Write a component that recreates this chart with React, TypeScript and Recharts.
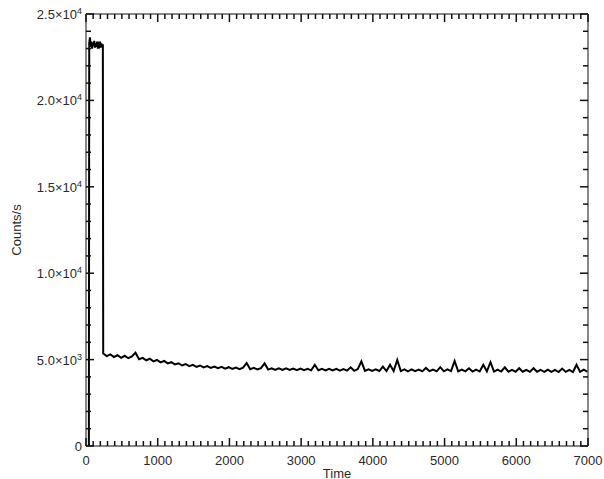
import React from 'react';
import { LineChart, Line, XAxis, YAxis } from 'recharts';

// Count rate during the first ~240 s (high state), starting from zero
const startTime = 40;
const startValue = 0;
const highStart = 45;
const highStep = 10;
const highValues = [
  23300, 23650, 23100, 23400, 23000, 23350, 23150, 23450, 23050, 23300,
  23100, 23400, 23000, 23250, 23150, 23400, 23050, 23300, 23100, 23250,
];

// Count rate after the drop
const lowStart = 240;
const lowStep = 50;
const lowValues = [
  5350, 5200, 5300, 5150, 5250, 5100, 5220, 5080, 5180, 5400,
  5020, 5100, 4960, 5050, 4900, 4980, 4840, 4920, 4780, 4850,
  4720, 4790, 4660, 4740, 4620, 4700, 4580, 4660, 4550, 4630,
  4520, 4600, 4500, 4580, 4480, 4560, 4460, 4540, 4450, 4530,
  4800, 4440, 4520, 4430, 4510, 4780, 4420, 4500, 4410, 4490,
  4400, 4490, 4400, 4480, 4390, 4480, 4390, 4470, 4380, 4700,
  4380, 4470, 4370, 4460, 4370, 4460, 4360, 4450, 4360, 4550,
  4350, 4450, 4900, 4350, 4440, 4350, 4440, 4340, 4600, 4340,
  4700, 4340, 4980, 4330, 4430, 4320, 4440, 4330, 4420, 4320,
  4520, 4330, 4420, 4320, 4560, 4320, 4430, 4330, 4920, 4320,
  4420, 4320, 4500, 4310, 4420, 4310, 4700, 4320, 4850, 4310,
  4420, 4310, 4550, 4300, 4410, 4300, 4500, 4300, 4410, 4290,
  4500, 4300, 4400, 4290, 4420, 4290, 4400, 4280, 4480, 4290,
  4400, 4280, 4700, 4290, 4420, 4300,
];

const xTicks = Array.from({ length: 71 }, (_, i) => i * 100);
const xMajor = [0, 1000, 2000, 3000, 4000, 5000, 6000, 7000];
const yTicks = Array.from({ length: 26 }, (_, i) => i * 1000);
const yMajorLabels: Record<number, [string, string]> = {
  0: ['0', ''],
  5000: ['5.0×10', '3'],
  10000: ['1.0×10', '4'],
  15000: ['1.5×10', '4'],
  20000: ['2.0×10', '4'],
  25000: ['2.5×10', '4'],
};

const data = [
  { t: startTime, v: startValue },
  ...highValues.map((v, i) => ({ t: highStart + i * highStep, v })),
  ...lowValues.map((v, i) => ({ t: lowStart + i * lowStep, v })),
];

const FONT = '"Liberation Sans", Arial, Helvetica, sans-serif';
const TXT = '#2a2a2a';
const MAJ = 8;
const MIN = 5;
const TW = 1.5;

const BottomTick = (props: any) => {
  const { x, y, payload } = props;
  const major = xMajor.includes(payload.value);
  return (
    <g>
      <line x1={x} x2={x} y1={y} y2={y - (major ? MAJ : MIN)} stroke="#111" strokeWidth={TW} />
      {major && (
        <text x={x} y={y + 19} textAnchor="middle" fontSize={13} fill={TXT} fontFamily={FONT}>
          {payload.value}
        </text>
      )}
    </g>
  );
};

const TopTick = (props: any) => {
  const { x, y, payload } = props;
  const major = xMajor.includes(payload.value);
  return (
    <g>
      <line x1={x} x2={x} y1={y} y2={y + (major ? MAJ : MIN)} stroke="#111" strokeWidth={TW} />
    </g>
  );
};

const LeftTick = (props: any) => {
  const { x, y, payload } = props;
  const lab = yMajorLabels[payload.value];
  const major = !!lab;
  return (
    <g>
      <line x1={x} x2={x + (major ? MAJ : MIN)} y1={y} y2={y} stroke="#111" strokeWidth={TW} />
      {lab && (
        <text x={x - 4} y={y + 5} textAnchor="end" fontSize={13} fill={TXT} fontFamily={FONT}>
          {lab[0]}
          {lab[1] && (
            <tspan dy={-5} fontSize={9}>
              {lab[1]}
            </tspan>
          )}
        </text>
      )}
    </g>
  );
};

const RightTick = (props: any) => {
  const { x, y, payload } = props;
  const major = !!yMajorLabels[payload.value];
  return (
    <g>
      <line x1={x} x2={x - (major ? MAJ : MIN)} y1={y} y2={y} stroke="#111" strokeWidth={TW} />
    </g>
  );
};

export default function App() {
  return (
    <div style={{ position: 'absolute', left: 0, top: 0, background: '#fff' }}>
      <LineChart
        width={604}
        height={479}
        data={data}
        margin={{ top: 0, right: 0, bottom: 0, left: 0 }}
        style={{ fontFamily: FONT }}
      >
        <XAxis
          xAxisId="bottom"
          dataKey="t"
          type="number"
          domain={[0, 7000]}
          ticks={xTicks}
          interval={0}
          tickSize={0}
          tickMargin={0}
          tick={<BottomTick />}
          height={33}
          orientation="bottom"
          stroke="#111"
          allowDataOverflow
          label={{
            content: (p: any) => {
              const vb = p.viewBox;
              return (
                <text x={vb.x + vb.width / 2} y={vb.y + 32} textAnchor="middle" fontSize={13} fill={TXT} fontFamily={FONT}>
                  Time
                </text>
              );
            },
          }}
        />
        <XAxis
          xAxisId="top"
          dataKey="t"
          type="number"
          domain={[0, 7000]}
          ticks={xTicks}
          interval={0}
          tickSize={0}
          tickMargin={0}
          tick={<TopTick />}
          height={14}
          orientation="top"
          stroke="#111"
          allowDataOverflow
        />
        <YAxis
          yAxisId="left"
          type="number"
          domain={[0, 25000]}
          ticks={yTicks}
          interval={0}
          tickSize={0}
          tickMargin={0}
          tick={<LeftTick />}
          width={86}
          orientation="left"
          stroke="#111"
          allowDataOverflow
          label={{
            content: (p: any) => {
              const vb = p.viewBox;
              const cy = vb.y + vb.height / 2;
              return (
                <text x={21} y={cy} textAnchor="middle" fontSize={13} fill={TXT} fontFamily={FONT} transform={`rotate(-90 21 ${cy})`}>
                  Counts/s
                </text>
              );
            },
          }}
        />
        <YAxis
          yAxisId="right"
          type="number"
          domain={[0, 25000]}
          ticks={yTicks}
          interval={0}
          tickSize={0}
          tickMargin={0}
          tick={<RightTick />}
          width={16}
          orientation="right"
          stroke="#111"
          allowDataOverflow
        />
        <Line
          xAxisId="bottom"
          yAxisId="left"
          type="linear"
          dataKey="v"
          stroke="#000"
          strokeWidth={2}
          dot={false}
          isAnimationActive={false}
        />
      </LineChart>
    </div>
  );
}
